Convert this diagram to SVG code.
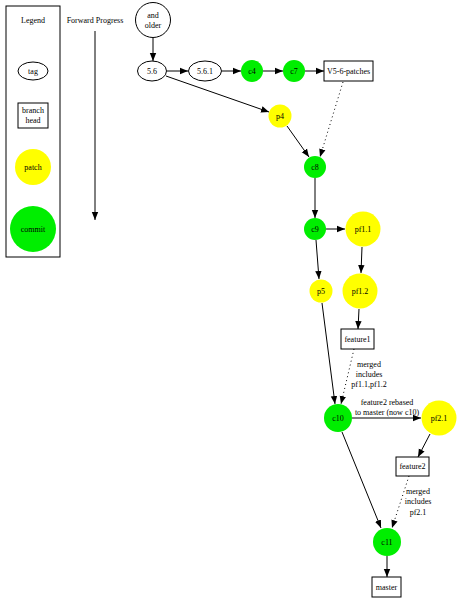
<svg xmlns="http://www.w3.org/2000/svg" width="459" height="599" viewBox="0 0 459 599">
<defs>
<style>
text{font-family:"Liberation Serif","Times New Roman",serif;font-size:8px;fill:#000;text-anchor:middle}
.o{fill:none;stroke:#000;stroke-width:1}
.b{fill:#fff;stroke:#000;stroke-width:1}
.y{fill:#ffff00;stroke:none}
.g{fill:#00ee00;stroke:none}
.e{fill:none;stroke:#000;stroke-width:1}
.d{fill:none;stroke:#000;stroke-width:1;stroke-dasharray:1,3}
</style>
<marker id="ah" viewBox="0 0 10 10" refX="10" refY="5" markerWidth="8" markerHeight="8" markerUnits="userSpaceOnUse" orient="auto">
<path d="M0,1 L10,5 L0,9 z" fill="#000"/>
</marker>
</defs>
<rect width="459" height="599" fill="#fff"/>
<g id="legend">
<rect x="6" y="6" width="54" height="251" class="o"/>
<text x="33" y="23">Legend</text>
</g>
<g id="legend-tag"><ellipse cx="33" cy="71" rx="15" ry="9" class="b"/><text x="33" y="74">tag</text></g>
<g id="legend-branch"><rect x="18" y="103" width="30" height="25" class="b"/><text x="33" y="113">branch</text><text x="33" y="123">head</text></g>
<g id="legend-patch"><circle cx="33" cy="167" r="18" class="y"/><text x="33" y="170">patch</text></g>
<g id="legend-commit"><circle cx="33" cy="229" r="23" class="g"/><text x="33" y="232">commit</text></g>
<g id="progress"><text x="95" y="23">Forward Progress</text></g>

<g id="n-older"><circle cx="153" cy="20" r="17.5" class="b"/><text x="153" y="18">and</text><text x="153" y="28">older</text></g>
<g id="n-56"><ellipse cx="152" cy="71" rx="14.5" ry="10" class="b"/><text x="152" y="74">5.6</text></g>
<g id="n-561"><ellipse cx="205" cy="71" rx="16.5" ry="10" class="b"/><text x="205" y="74">5.6.1</text></g>
<g id="n-c4"><circle cx="252" cy="71" r="11" class="g"/><text x="252" y="74">c4</text></g>
<g id="n-c7"><circle cx="294" cy="71" r="11" class="g"/><text x="294" y="74">c7</text></g>
<g id="n-v56"><rect x="324" y="61" width="49" height="20" class="b"/><text x="348.5" y="74">V5-6-patches</text></g>
<g id="n-p4"><circle cx="280" cy="116" r="11.5" class="y"/><text x="280" y="119">p4</text></g>
<g id="n-c8"><circle cx="315" cy="167" r="11" class="g"/><text x="315" y="170">c8</text></g>
<g id="n-c9"><circle cx="315" cy="229" r="11" class="g"/><text x="315" y="232">c9</text></g>
<g id="n-pf11"><circle cx="363" cy="229" r="17.5" class="y"/><text x="363" y="232">pf1.1</text></g>
<g id="n-p5"><circle cx="321" cy="291" r="11.5" class="y"/><text x="321" y="294">p5</text></g>
<g id="n-pf12"><circle cx="360" cy="291" r="17.5" class="y"/><text x="360" y="294">pf1.2</text></g>
<g id="n-feature1"><rect x="341" y="329" width="33" height="20" class="b"/><text x="357.5" y="342">feature1</text></g>
<g id="n-c10"><circle cx="338" cy="418" r="14" class="g"/><text x="338" y="421">c10</text></g>
<g id="n-pf21"><circle cx="439" cy="418" r="17.5" class="y"/><text x="439" y="421">pf2.1</text></g>
<g id="n-feature2"><rect x="396" y="457" width="33" height="19" class="b"/><text x="412.5" y="469">feature2</text></g>
<g id="n-c11"><circle cx="387" cy="542" r="14" class="g"/><text x="387" y="545">c11</text></g>
<g id="n-master"><rect x="372" y="577" width="29" height="20" class="b"/><text x="386.5" y="590">master</text></g>

<g id="connectors">
<line x1="95" y1="31" x2="95" y2="220" class="e" marker-end="url(#ah)"/>
<line x1="153" y1="38" x2="153" y2="61" class="e" marker-end="url(#ah)"/>
<line x1="167" y1="71" x2="188" y2="71" class="e" marker-end="url(#ah)"/>
<line x1="222" y1="71" x2="241" y2="71" class="e" marker-end="url(#ah)"/>
<line x1="263" y1="71" x2="283" y2="71" class="e" marker-end="url(#ah)"/>
<line x1="305" y1="71" x2="324" y2="71" class="e" marker-end="url(#ah)"/>
<line x1="166" y1="76" x2="269" y2="112" class="e" marker-end="url(#ah)"/>
<line x1="287" y1="126" x2="309" y2="157" class="e" marker-end="url(#ah)"/>
<line x1="343" y1="82" x2="320" y2="157" class="d" marker-end="url(#ah)"/>
<line x1="315" y1="178" x2="315" y2="218" class="e" marker-end="url(#ah)"/>
<line x1="326" y1="229" x2="345" y2="229" class="e" marker-end="url(#ah)"/>
<line x1="316" y1="240" x2="319" y2="279" class="e" marker-end="url(#ah)"/>
<line x1="362" y1="247" x2="361" y2="273" class="e" marker-end="url(#ah)"/>
<line x1="359" y1="309" x2="358" y2="329" class="e" marker-end="url(#ah)"/>
<line x1="354" y1="349" x2="341" y2="404" class="d" marker-end="url(#ah)"/>
<line x1="322" y1="303" x2="335" y2="404" class="e" marker-end="url(#ah)"/>
<line x1="352" y1="418" x2="421" y2="418" class="e" marker-end="url(#ah)"/>
<line x1="430" y1="434" x2="418" y2="457" class="e" marker-end="url(#ah)"/>
<line x1="409" y1="476" x2="392" y2="528" class="d" marker-end="url(#ah)"/>
<line x1="342" y1="432" x2="381" y2="528" class="e" marker-end="url(#ah)"/>
<line x1="387" y1="556" x2="387" y2="577" class="e" marker-end="url(#ah)"/>
<text x="369" y="367">merged</text>
<text x="369" y="377">includes</text>
<text x="369" y="387">pf1.1,pf1.2</text>
<text x="387" y="405">feature2 rebased</text>
<text x="387" y="415">to master (now c10)</text>
<text x="418" y="494">merged</text>
<text x="418" y="504">includes</text>
<text x="418" y="515">pf2.1</text>
</g>
</svg>
